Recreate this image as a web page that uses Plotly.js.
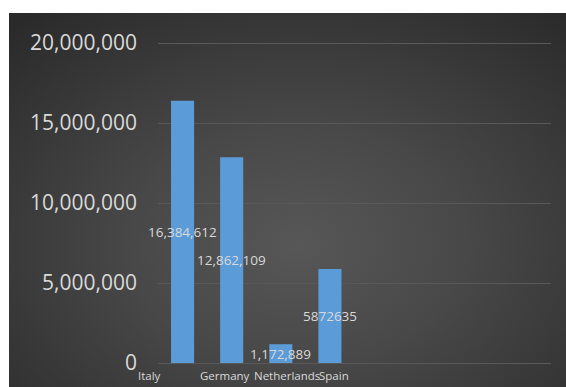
<!DOCTYPE html>
<html>
<head>
<meta charset="utf-8">
<script src="https://cdn.plot.ly/plotly-3.0.1.min.js"></script>
<style>
  html, body { margin: 0; padding: 0; background: #ffffff; width: 566px; height: 387px; overflow: hidden; }
  #bg { position: absolute; left: 9px; top: 13px; width: 557px; height: 374px;
        background: radial-gradient(ellipse 75% 80% at 52% 62%, #575757 0%, #484848 40%, #2a2a2a 100%); }
  #chart { position: absolute; left: 0; top: 0; width: 566px; height: 387px; }
</style>
</head>
<body>
<div id="bg"></div>
<div id="chart"></div>
<script>
// Data
const categories = ["Italy", "Germany", "Netherlands", "Spain", "", " ", "  ", "   "];
const countries = ["Italy", "Germany", "Netherlands", "Spain"];
const values = [16384612, 12862109, 1172889, 5872635];
const valueLabels = ["16,384,612", "12,862,109", "1,172,889", "5872635"];
const yTickVals = [0, 5000000, 10000000, 15000000, 20000000];
const yTickText = ["0", "5,000,000", "10,000,000", "15,000,000", "20,000,000"];

// style: horizontal label offsets (px) imitating original placement
const catLabelShift = [-33, -7, 6, 4];

const labelColor = "#d9d9d9";
const fontFam = "'Open Sans', 'Noto Sans', sans-serif";

const trace = {
  type: "bar",
  x: countries,
  y: values,
  width: 0.47,
  marker: { color: "#5b9bd8", line: { width: 0 } },
  hoverinfo: "none"
};

const annotations = [];
countries.forEach((c, i) => {
  annotations.push({
    x: c, y: values[i] / 2, xref: "x", yref: "y",
    text: valueLabels[i], showarrow: false,
    font: { family: fontFam, size: 13.5, color: labelColor },
    xanchor: "center", yanchor: "middle"
  });
  annotations.push({
    x: c, y: 0, xref: "x", yref: "y",
    text: c, showarrow: false,
    font: { family: fontFam, size: 11.5, color: labelColor },
    xanchor: "center", yanchor: "top", yshift: -3, xshift: catLabelShift[i]
  });
});

const layout = {
  width: 566, height: 387,
  margin: { l: 158, r: 15, t: 38, b: 24, pad: 0 },
  paper_bgcolor: "rgba(0,0,0,0)",
  plot_bgcolor: "rgba(0,0,0,0)",
  showlegend: false,
  xaxis: {
    type: "category",
    categoryorder: "array",
    categoryarray: categories,
    range: [-0.5, 7.5],
    showticklabels: false,
    showgrid: false,
    zeroline: false,
    showline: false,
    ticks: ""
  },
  yaxis: {
    range: [0, 20312500],
    tickvals: yTickVals,
    ticktext: yTickText,
    showgrid: true,
    gridcolor: "#595959",
    gridwidth: 1,
    zeroline: true,
    zerolinecolor: "#595959",
    zerolinewidth: 1,
    showline: false,
    ticks: "",
    ticklabelstandoff: 20,
    tickfont: { family: fontFam, size: 21, color: labelColor }
  },
  annotations: annotations
};

Plotly.newPlot("chart", [trace], layout, { staticPlot: true, displayModeBar: false });
</script>
</body>
</html>
